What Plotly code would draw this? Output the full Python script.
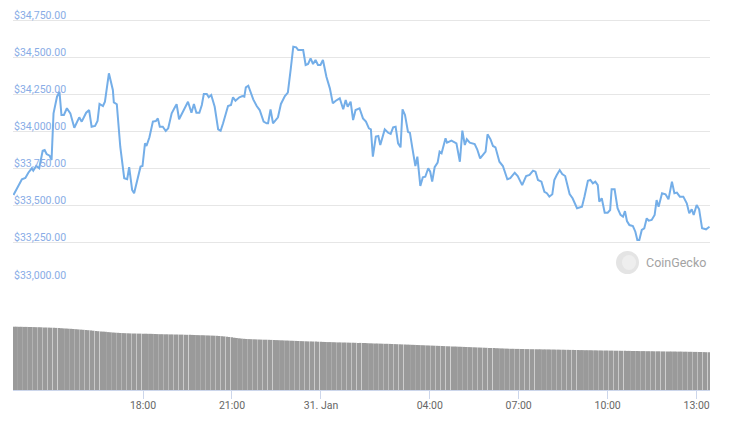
import pandas as pd
import plotly.graph_objects as go

# ---- price series (time "DD HH:MM" in Jan 2021, USD) ----
price_times = [
    "30 13:38", "30 13:55", "30 14:02", "30 14:08", "30 14:15", "30 14:18", "30 14:24", "30 14:30", "30 14:37", "30 14:41",
    "30 14:45", "30 14:51", "30 14:55", "30 14:59", "30 15:06", "30 15:11", "30 15:15", "30 15:20", "30 15:26", "30 15:33",
    "30 15:41", "30 15:51", "30 15:56", "30 16:05", "30 16:11", "30 16:16", "30 16:23", "30 16:28", "30 16:32", "30 16:39",
    "30 16:43", "30 16:51", "30 16:59", "30 17:01", "30 17:07", "30 17:14", "30 17:22", "30 17:28", "30 17:32", "30 17:38",
    "30 17:42", "30 17:50", "30 17:55", "30 17:59", "30 18:04", "30 18:07", "30 18:13", "30 18:20", "30 18:26", "30 18:30",
    "30 18:34", "30 18:40", "30 18:46", "30 18:51", "30 18:58", "30 19:05", "30 19:08", "30 19:13", "30 19:21", "30 19:31",
    "30 19:38", "30 19:43", "30 19:48", "30 19:54", "30 19:59", "30 20:03", "30 20:09", "30 20:13", "30 20:18", "30 20:25",
    "30 20:32", "30 20:37", "30 20:42", "30 20:52", "30 20:58", "30 21:02", "30 21:07", "30 21:15", "30 21:21", "30 21:25",
    "30 21:28", "30 21:33", "30 21:43", "30 21:50", "30 21:56", "30 22:04", "30 22:10", "30 22:13", "30 22:18", "30 22:23",
    "30 22:33", "30 22:39", "30 22:47", "30 22:53", "30 22:59", "30 23:04", "30 23:10", "30 23:14", "30 23:24", "30 23:29",
    "30 23:34", "30 23:39", "30 23:44", "30 23:49", "30 23:54", "30 23:59", "31 00:04", "31 00:11", "31 00:18", "31 00:24",
    "31 00:30", "31 00:38", "31 00:45", "31 00:50", "31 00:54", "31 01:00", "31 01:05", "31 01:10", "31 01:18", "31 01:25",
    "31 01:31", "31 01:57", "31 02:01", "31 02:05", "31 02:11", "31 02:16", "31 02:20", "31 02:29", "31 02:36", "31 02:41",
    "31 02:46", "31 02:51", "31 02:56", "31 03:01", "31 03:05", "31 03:10", "31 03:16", "31 03:20", "31 03:25", "31 03:31",
    "31 03:35", "31 03:41", "31 03:46", "31 03:51", "31 03:57", "31 04:01", "31 04:05", "31 04:10", "31 04:16", "31 04:20",
    "31 04:24", "31 04:32", "31 04:35", "31 04:44", "31 04:54", "31 05:01", "31 05:06", "31 05:11", "31 05:15", "31 05:21",
    "31 05:31", "31 05:36", "31 05:42", "31 05:49", "31 05:53", "31 05:57", "31 06:03", "31 06:08", "31 06:13", "31 06:21",
    "31 06:28", "31 06:37", "31 06:43", "31 06:52", "31 06:58", "31 07:07", "31 07:15", "31 07:22", "31 07:29", "31 07:34",
    "31 07:39", "31 07:46", "31 07:52", "31 07:57", "31 08:02", "31 08:08", "31 08:12", "31 08:17", "31 08:23", "31 08:28",
    "31 08:34", "31 08:43", "31 08:49", "31 08:58", "31 09:03", "31 09:08", "31 09:13", "31 09:20", "31 09:25", "31 09:30",
    "31 09:35", "31 09:40", "31 09:43", "31 09:48", "31 09:54", "31 10:00", "31 10:05", "31 10:08", "31 10:14", "31 10:20",
    "31 10:26", "31 10:31", "31 10:35", "31 10:39", "31 10:44", "31 10:51", "31 10:56", "31 11:00", "31 11:04", "31 11:09",
    "31 11:14", "31 11:19", "31 11:23", "31 11:29", "31 11:35", "31 11:39", "31 11:43", "31 11:50", "31 11:57", "31 12:03",
    "31 12:10", "31 12:15", "31 12:20", "31 12:26", "31 12:33", "31 12:40", "31 12:45", "31 12:50", "31 12:54", "31 13:00",
    "31 13:05", "31 13:11", "31 13:19", "31 13:26",
]
prices = [
    33572, 33678, 33687, 33722, 33752, 33736, 33767, 33752, 33870, 33875,
    33848, 33837, 33808, 34122, 34234, 34267, 34111, 34111, 34156, 34122,
    34025, 34095, 34066, 34126, 34144, 34032, 34037, 34070, 34185, 34171,
    34200, 34391, 34279, 34196, 34183, 33897, 33685, 33678, 33759, 33606,
    33584, 33707, 33763, 33767, 33920, 33902, 33961, 34066, 34070, 34088,
    34032, 34032, 34003, 34021, 34122, 34166, 34183, 34082, 34133, 34200,
    34126, 34185, 34126, 34126, 34178, 34252, 34252, 34230, 34245, 34166,
    34014, 34005, 34055, 34171, 34178, 34230, 34207, 34230, 34238, 34234,
    34297, 34308, 34216, 34171, 34144, 34066, 34055, 34055, 34149, 34055,
    34095, 34185, 34238, 34261, 34425, 34570, 34566, 34548, 34548, 34447,
    34454, 34492, 34454, 34481, 34447, 34447, 34481, 34368, 34290, 34189,
    34207, 34223, 34149, 34212, 34166, 34200, 34077, 34144, 34156, 34088,
    34066, 34021, 34014, 33830, 33965, 33969, 33909, 34014, 33991, 33983,
    34028, 34032, 33920, 33893, 34149, 34111, 33998, 33991, 33886, 33767,
    33830, 33633, 33691, 33695, 33752, 33729, 33662, 33759, 33790, 33864,
    33853, 33954, 33924, 33938, 33920, 33796, 34005, 33909, 33947, 33924,
    33915, 33880, 33819, 33853, 33864, 33981, 33947, 33902, 33893, 33796,
    33767, 33678, 33685, 33722, 33700, 33639, 33700, 33707, 33736, 33729,
    33673, 33662, 33594, 33584, 33561, 33577, 33673, 33707, 33740, 33713,
    33700, 33579, 33550, 33483, 33489, 33493, 33561, 33668, 33673, 33651,
    33662, 33639, 33527, 33550, 33453, 33453, 33471, 33611, 33611, 33483,
    33438, 33426, 33464, 33397, 33370, 33363, 33325, 33269, 33269, 33337,
    33348, 33415, 33399, 33404, 33438, 33538, 33493, 33584, 33577, 33543,
    33662, 33584, 33588, 33561, 33561, 33516, 33449, 33476, 33438, 33505,
    33476, 33348, 33341, 33359,
]

# ---- 24h volume (USD billions), one bar per 5 minutes from 30 Jan 13:40 ----
volumes = [
    63.3, 63.3, 63.2, 63.2, 63.1, 63.1, 63.0, 63.0, 62.9, 62.8, 62.8, 62.7,
    62.5, 62.5, 62.4, 62.3, 62.2, 62.1, 62.0, 61.8, 61.6, 61.5, 61.3, 61.2,
    61.0, 60.8, 60.6, 60.4, 60.2, 60.0, 59.8, 59.6, 59.3, 59.0, 58.8, 58.6,
    58.4, 58.2, 57.9, 57.7, 57.5, 57.3, 57.2, 57.0, 56.9, 56.8, 56.7, 56.6,
    56.5, 56.5, 56.4, 56.4, 56.3, 56.3, 56.2, 56.2, 56.1, 56.0, 55.9, 55.8,
    55.8, 55.7, 55.7, 55.6, 55.6, 55.5, 55.5, 55.4, 55.4, 55.3, 55.2, 55.2,
    55.1, 55.0, 54.9, 54.8, 54.8, 54.7, 54.6, 54.5, 54.4, 54.3, 54.2, 54.0,
    53.8, 53.6, 53.3, 53.0, 52.7, 52.3, 52.0, 51.7, 51.4, 51.2, 51.0, 50.9,
    50.8, 50.7, 50.6, 50.5, 50.4, 50.3, 50.3, 50.2, 50.1, 50.0, 49.9, 49.8,
    49.7, 49.6, 49.5, 49.4, 49.3, 49.2, 49.1, 49.0, 48.9, 48.8, 48.7, 48.6,
    48.6, 48.5, 48.4, 48.3, 48.2, 48.1, 48.0, 47.9, 47.9, 47.8, 47.7, 47.6,
    47.6, 47.5, 47.5, 47.4, 47.3, 47.3, 47.2, 47.1, 47.1, 47.0, 47.0,
    46.8, 46.7, 46.6, 46.5, 46.5, 46.4, 46.3, 46.2, 46.2,
    46.1, 46.0, 45.9, 45.8, 45.7, 45.6, 45.5, 45.4, 45.3, 45.2, 45.1, 45.0,
    44.9, 44.8, 44.7, 44.6, 44.5, 44.4, 44.3, 44.2, 44.1, 44.0, 43.9, 43.8,
    43.7, 43.6, 43.5, 43.4, 43.3, 43.2, 43.1, 43.0, 42.9, 42.8, 42.7, 42.6,
    42.5, 42.4, 42.3, 42.2, 42.1, 42.0, 41.9, 41.8, 41.7, 41.6, 41.5, 41.4,
    41.3, 41.2, 41.2, 41.1, 41.1, 41.0, 41.0, 40.9, 40.9, 40.8, 40.8, 40.7,
    40.7, 40.7, 40.6, 40.6, 40.6, 40.5, 40.5, 40.4, 40.4, 40.3, 40.3, 40.2,
    40.2, 40.1, 40.1, 40.0, 40.0, 39.9, 39.9, 39.8, 39.8, 39.8, 39.7, 39.7,
    39.6, 39.6, 39.5, 39.5, 39.5, 39.4, 39.4, 39.3, 39.3, 39.3, 39.2, 39.2,
    39.1, 39.1, 39.0, 39.0, 39.0, 38.9, 38.9, 38.9, 38.8, 38.8, 38.8, 38.7,
    38.7, 38.7, 38.6, 38.6, 38.6, 38.5, 38.5, 38.5, 38.4, 38.4, 38.4, 38.3,
    38.3, 38.2, 38.2, 38.1, 38.1, 38.0, 38.0, 37.9, 37.8, 37.7,
]

price_ticks = [33000, 33250, 33500, 33750, 34000, 34250, 34500, 34750]
price_tick_text = ["$33,000.00", "$33,250.00", "$33,500.00", "$33,750.00",
                   "$34,000.00", "$34,250.00", "$34,500.00", "$34,750.00"]
time_ticks = ["2021-01-30 18:00", "2021-01-30 21:00", "2021-01-31 00:00", "2021-01-31 04:00",
              "2021-01-31 07:00", "2021-01-31 10:00", "2021-01-31 13:00"]
time_tick_text = ["18:00", "21:00", "31. Jan", "04:00", "07:00", "10:00", "13:00"]

# ---- build ----
price_x = pd.to_datetime(["2021-01-" + s for s in price_times])
gap_start = pd.Timestamp("2021-01-31 01:33")
gap_ms = 20 * 60 * 1000
gap_end = gap_start + pd.Timedelta(milliseconds=gap_ms)
vol_grid = pd.date_range("2021-01-30 13:40", "2021-01-31 13:25", freq="5min")
vol_x = [t for t in vol_grid if not (gap_start <= t < gap_end)]
n = min(len(vol_x), len(volumes))
vol_x, volumes = vol_x[:n], volumes[:n]

x_range = ["2021-01-30 13:37", "2021-01-31 13:27"]
breaks = [dict(values=[gap_start.strftime("%Y-%m-%d %H:%M:%S")], dvalue=gap_ms)]

# The page body has an 8px margin: work in screen pixels and shift.
OFF = 8
W, H = 730 - OFF, 421 - OFF
SCR_LEFT, SCR_RIGHT = 13, 710
SCR_PLOT_TOP, SCR_PLOT_BOTTOM = 10, 390
L = SCR_LEFT - OFF
R = W - (SCR_RIGHT - OFF)
T = SCR_PLOT_TOP - OFF
B = H - (SCR_PLOT_BOTTOM - OFF)
plot_h = H - T - B
plot_w = W - L - R

PX_PER_USD = 37.14 / 250.0
PRICE_BOTTOM_SCR = 280
PRICE_TOP_VAL = 33000 + (PRICE_BOTTOM_SCR - SCR_PLOT_TOP) / PX_PER_USD
VOL_TOP_SCR = 300


def fy(scr_y):
    return (SCR_PLOT_BOTTOM - scr_y) / plot_h


def fx(scr_x):
    return (scr_x - SCR_LEFT) / plot_w


fig = go.Figure()
fig.add_trace(go.Bar(
    x=vol_x, y=volumes, xaxis="x", yaxis="y",
    marker=dict(color="#9a9a9a", line=dict(width=0)),
    hoverinfo="skip",
))
fig.add_trace(go.Scatter(
    x=price_x, y=prices, xaxis="x2", yaxis="y2", mode="lines",
    line=dict(color="#74aee8", width=2),
))

font_family = "Roboto, Open Sans, sans-serif"
fig.update_layout(
    width=W, height=H,
    margin=dict(l=L, r=R, t=T, b=B, pad=0, autoexpand=False),
    paper_bgcolor="white", plot_bgcolor="white",
    showlegend=False, bargap=0.22,
    font=dict(family=font_family, size=10, color="#666666"),
    xaxis=dict(
        anchor="y", type="date", range=x_range, rangebreaks=breaks, automargin=False,
        tickmode="array", tickvals=time_ticks, ticktext=time_tick_text,
        ticks="outside", ticklen=8, tickwidth=1, tickcolor="#ccd6eb",
        ticklabelstandoff=-3,
        showline=True, linecolor="#ccd6eb", linewidth=1,
        showgrid=False, zeroline=False,
        tickfont=dict(color="#666666", size=10.5),
    ),
    xaxis2=dict(
        anchor="y2", type="date", range=x_range, rangebreaks=breaks, matches="x",
        automargin=False,
        showticklabels=False, ticks="", showline=False, showgrid=False, zeroline=False,
    ),
    yaxis=dict(
        domain=[0, fy(VOL_TOP_SCR)], range=[0, 90], automargin=False,
        visible=False, showgrid=False, zeroline=False,
    ),
    yaxis2=dict(
        domain=[fy(PRICE_BOTTOM_SCR), 1.0], range=[33000, PRICE_TOP_VAL],
        automargin=False,
        tickmode="array", tickvals=price_ticks, showticklabels=False, ticks="",
        showgrid=True, gridcolor="#e6e6e6", gridwidth=1,
        showline=False, zeroline=False,
    ),
)

# price labels sit just above their gridlines, inside the plot
for val, txt in zip(price_ticks, price_tick_text):
    fig.add_annotation(text=txt, xref="paper", yref="y2", x=0, y=val,
                       xanchor="left", yanchor="bottom", showarrow=False,
                       yshift=-2.5, borderpad=0,
                       font=dict(family=font_family, size=10.5, color="#88ace6"))

# CoinGecko watermark
fig.add_shape(type="circle", xref="paper", yref="paper",
              x0=fx(616), x1=fx(639), y0=fy(274), y1=fy(251),
              fillcolor="#e4e4e4", line=dict(width=0), layer="above")
fig.add_shape(type="circle", xref="paper", yref="paper",
              x0=fx(622), x1=fx(636), y0=fy(270), y1=fy(255),
              fillcolor="#eeeeee", line=dict(width=0), layer="above")
fig.add_annotation(text="CoinGecko", xref="paper", yref="paper",
                   x=fx(644), y=fy(262), xanchor="left", yanchor="middle",
                   showarrow=False, font=dict(family=font_family, size=12.5, color="#a3a3a3"))

fig.write_html("out.html")
